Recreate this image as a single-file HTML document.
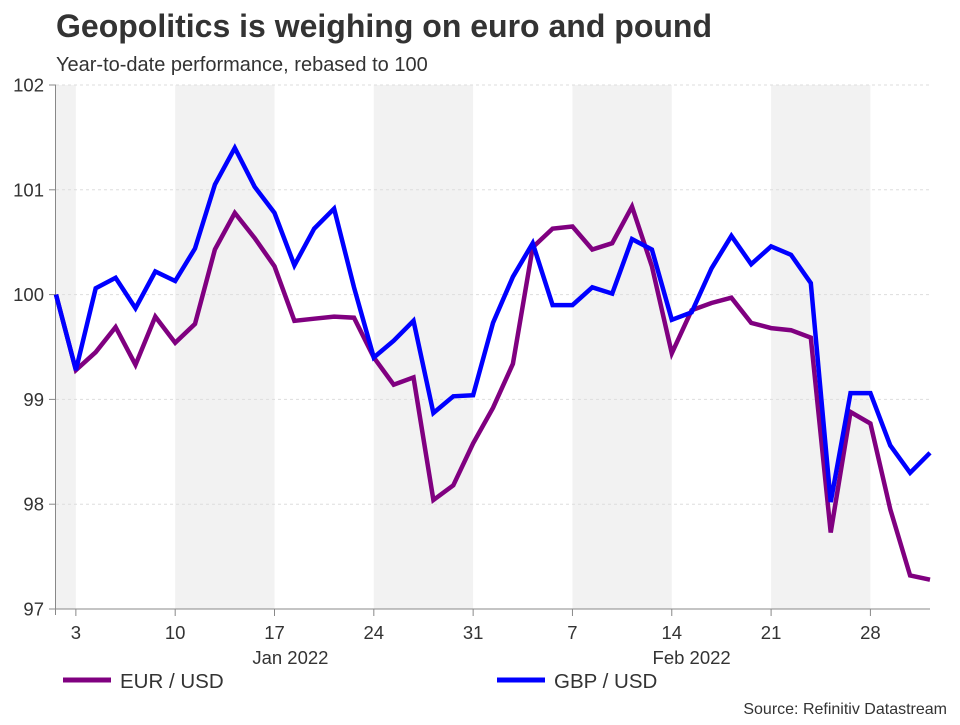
<!DOCTYPE html>
<html><head><meta charset="utf-8"><style>
body{margin:0;background:#fff;}
svg text{font-family:"Liberation Sans",Arial,sans-serif;}
</style></head><body>
<svg id="chart" width="960" height="720" viewBox="0 0 960 720" xmlns="http://www.w3.org/2000/svg">
<rect width="960" height="720" fill="#fff"/>
<text x="56" y="37" font-size="32" font-weight="bold" fill="#333">Geopolitics is weighing on euro and pound</text>
<text x="56" y="71" font-size="20" fill="#333">Year-to-date performance, rebased to 100</text>
<g id="bands"></g><g id="grid"></g><g id="axes"></g><g id="series"></g>
<line x1="63" y1="680" x2="111" y2="680" stroke="#800080" stroke-width="5"/>
<text x="120" y="688" font-size="20.5" fill="#333">EUR / USD</text>
<line x1="497" y1="680" x2="545" y2="680" stroke="#0000ff" stroke-width="5"/>
<text x="554" y="688" font-size="20.5" fill="#333">GBP / USD</text>
<text x="947" y="714" font-size="16" fill="#333" text-anchor="end">Source: Refinitiv Datastream</text>
</svg>
<script>
const eurValues=[100,99.28,99.45,99.69,99.33,99.79,99.54,99.72,100.43,100.78,100.54,100.27,99.75,99.77,99.79,99.78,99.40,99.14,99.21,98.04,98.18,98.58,98.92,99.34,100.45,100.63,100.65,100.43,100.49,100.84,100.27,99.44,99.85,99.92,99.97,99.73,99.68,99.66,99.59,97.73,98.88,98.77,97.95,97.32,97.28];
const gbpValues=[100,99.28,100.06,100.16,99.87,100.22,100.13,100.44,101.05,101.40,101.03,100.78,100.28,100.63,100.82,100.07,99.40,99.56,99.75,98.87,99.03,99.04,99.73,100.17,100.49,99.90,99.90,100.07,100.01,100.53,100.43,99.76,99.83,100.25,100.56,100.29,100.46,100.38,100.11,98.02,99.06,99.06,98.56,98.30,98.49];
const yTicks=[97,98,99,100,101,102];
const xTickLabels=["3","10","17","24","31","7","14","21","28"];
const xTickIndex=[1,6,11,16,21,26,31,36,41];
const bandStarts=[0,6,16,26,36];
const bandEnds=[1,11,21,31,41];
const monthLabels=["Jan 2022","Feb 2022"];
const monthIndex=[11.8,32.0];

const NS="http://www.w3.org/2000/svg";
const X0=56,X1=930,YT=85,YB=609,VMIN=97,VMAX=102;
const n=eurValues.length;
function xs(i){return X0+i*(X1-X0)/(n-1);}
function ys(v){return YB-(v-VMIN)*(YB-YT)/(VMAX-VMIN);}
function mk(tag,attrs,parent){const e=document.createElementNS(NS,tag);for(const k in attrs)e.setAttribute(k,attrs[k]);parent.appendChild(e);return e;}
const bands=document.getElementById('bands'),grid=document.getElementById('grid'),axes=document.getElementById('axes'),series=document.getElementById('series');
bandStarts.forEach((s,k)=>{
  const r=mk('rect',{x:xs(s),y:YT,width:xs(bandEnds[k])-xs(s),height:YB-YT,fill:'#f2f2f2'},bands);
  
  
});
yTicks.forEach(v=>{
  if(v>VMIN){const g=mk('line',{x1:X0,x2:X1,y1:ys(v),y2:ys(v),stroke:'#ddd','stroke-dasharray':'3,3'},grid);
  
  }
  const tk=mk('line',{x1:X0-7,x2:X0,y1:ys(v),y2:ys(v),stroke:'#888'},axes);
  
  
  const t=mk('text',{x:X0-12,y:ys(v)+6.5,'font-size':18.5,fill:'#333','text-anchor':'end'},axes);
  t.textContent=v;
  
  
});
const ya=mk('line',{x1:X0-0.5,x2:X0-0.5,y1:YT,y2:YB+6,stroke:'#888'},axes);


const xa=mk('line',{x1:X0-7,x2:X1,y1:YB,y2:YB,stroke:'#888'},axes);


xTickIndex.forEach((i,k)=>{
  const tk=mk('line',{x1:xs(i),x2:xs(i),y1:YB,y2:YB+7,stroke:'#888'},axes);
  
  
  const t=mk('text',{x:xs(i),y:639,'font-size':18.5,fill:'#333','text-anchor':'middle'},axes);
  t.textContent=xTickLabels[k];
  
  
});
monthLabels.forEach((m,k)=>{
  const t=mk('text',{x:xs(monthIndex[k]),y:664,'font-size':18.5,fill:'#333','text-anchor':'middle'},axes);
  t.textContent=m;
  
  
});
function line(vals,color,name){
  const d=vals.map((v,i)=>(i?'L':'M')+xs(i).toFixed(1)+' '+ys(v).toFixed(1)).join(' ');
  const p=mk('path',{d:d,fill:'none',stroke:color,'stroke-width':4.5,'stroke-linejoin':'miter'},series);
  
  
}
line(eurValues,'#800080','eur-usd-line');
line(gbpValues,'#0000ff','gbp-usd-line');
</script>
</body></html>
